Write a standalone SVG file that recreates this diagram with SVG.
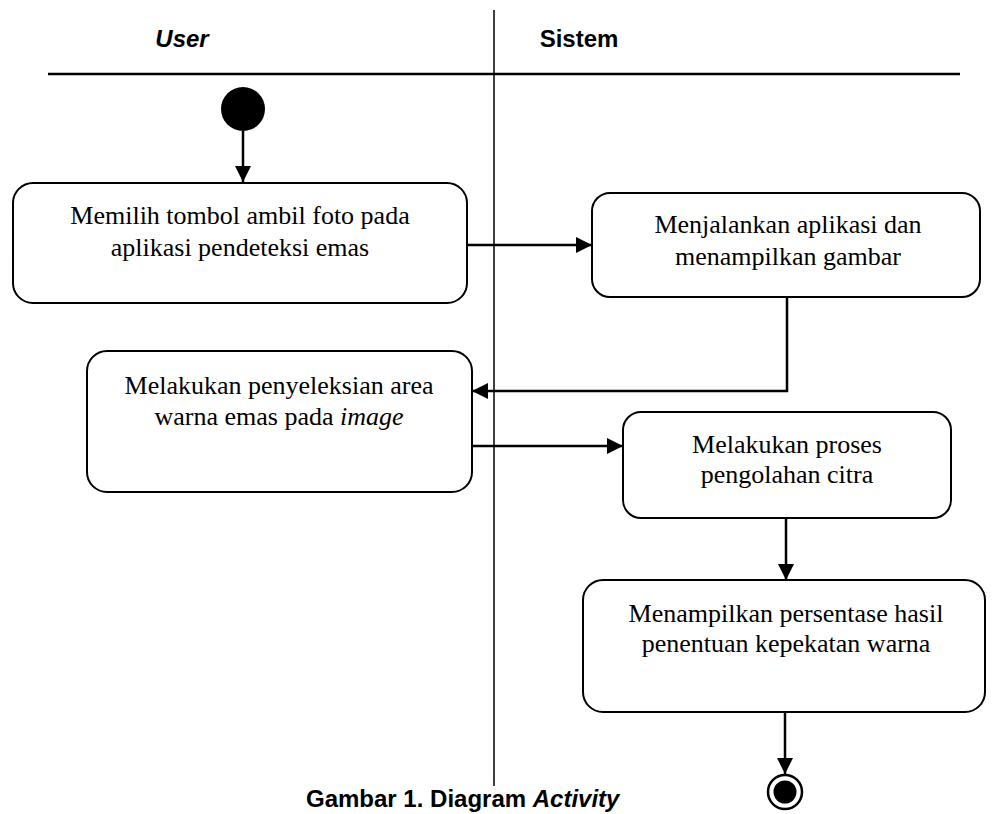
<svg xmlns="http://www.w3.org/2000/svg" width="993" height="814" viewBox="0 0 993 814">
<style>
.node rect{fill:#fff;stroke:#000;stroke-width:2}
.t{font-family:"Liberation Serif","Times New Roman",serif;font-size:26px;fill:#000;text-anchor:middle}
.h{font-family:"Liberation Sans",Arial,sans-serif;font-weight:bold;font-size:24px;fill:#000}
.c{fill:none;stroke:#000;stroke-width:2.5}
</style>
<defs>
<marker id="ah" markerUnits="userSpaceOnUse" markerWidth="16" markerHeight="16" viewBox="0 0 16 16" refX="16" refY="8" orient="auto">
<path d="M0,0 L16,8 L0,16 Z" fill="#000"/>
</marker>
</defs>
<rect width="993" height="814" fill="#fff"/>
<g id="swimlanes">
<line x1="494" y1="10" x2="494" y2="786" stroke="#000" stroke-width="1.5"/>
<line x1="48" y1="74" x2="960" y2="74" stroke="#000" stroke-width="2.5"/>
<text class="h" x="182" y="47" text-anchor="middle" font-style="italic">User</text>
<text class="h" x="579" y="47" text-anchor="middle">Sistem</text>
</g>
<g id="start"><circle cx="243" cy="109" r="22" fill="#000"/></g>
<g id="n1" class="node"><rect x="13" y="183" width="454" height="120" rx="20"/>
<text class="t" x="240" y="224">Memilih tombol ambil foto pada</text>
<text class="t" x="240" y="256">aplikasi pendeteksi emas</text></g>
<g id="n2" class="node"><rect x="592" y="193" width="388" height="104" rx="18"/>
<text class="t" x="788" y="233">Menjalankan aplikasi dan</text>
<text class="t" x="788" y="265">menampilkan gambar</text></g>
<g id="n3" class="node"><rect x="87" y="351" width="385" height="141" rx="20"/>
<text class="t" x="279" y="394">Melakukan penyeleksian area</text>
<text class="t" x="279" y="425">warna emas pada <tspan font-style="italic">image</tspan></text></g>
<g id="n4" class="node"><rect x="623" y="412" width="328" height="106" rx="18"/>
<text class="t" x="787" y="453">Melakukan proses</text>
<text class="t" x="787" y="483">pengolahan citra</text></g>
<g id="n5" class="node"><rect x="583" y="580" width="402" height="132" rx="20"/>
<text class="t" x="786" y="622">Menampilkan persentase hasil</text>
<text class="t" x="786" y="652">penentuan kepekatan warna</text></g>
<g id="end"><circle cx="785" cy="792" r="17" fill="#fff" stroke="#000" stroke-width="2.5"/><circle cx="785" cy="792" r="11.5" fill="#000"/></g>
<g id="connectors">
<path class="c" d="M243,131 V182" marker-end="url(#ah)"/>
<path class="c" d="M467,245 H592" marker-end="url(#ah)"/>
<path class="c" d="M787,297 V391 H472" marker-end="url(#ah)"/>
<path class="c" d="M472,446 H623" marker-end="url(#ah)"/>
<path class="c" d="M786,518 V580" marker-end="url(#ah)"/>
<path class="c" d="M785,712 V774" marker-end="url(#ah)"/>
</g>
<text class="h" x="306" y="807" font-size="25">Gambar 1. Diagram <tspan font-style="italic">Activity</tspan></text>
</svg>
